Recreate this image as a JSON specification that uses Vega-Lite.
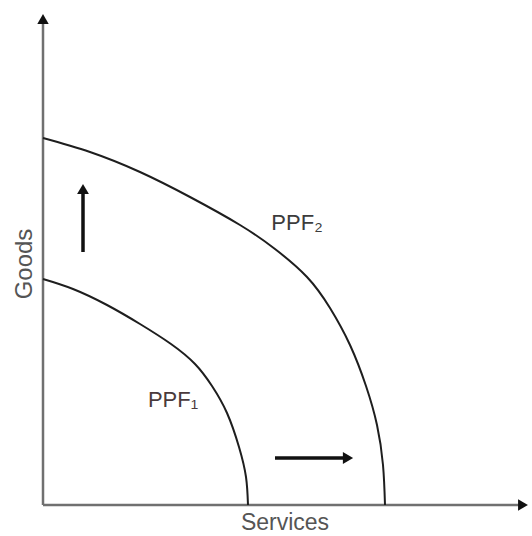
{
  "$schema": "https://vega.github.io/schema/vega-lite/v6.json",
  "width": 532,
  "height": 536,
  "padding": 0,
  "autosize": {"type": "none"},
  "background": "white",
  "config": {"view": {"stroke": null}},
  "datasets": {
    "curves": [
      {"curve": "PPF1", "order": 0, "services": 0, "goods": 226},
      {"curve": "PPF1", "order": 1, "services": 30, "goods": 216},
      {"curve": "PPF1", "order": 2, "services": 64, "goods": 200},
      {"curve": "PPF1", "order": 3, "services": 97, "goods": 181},
      {"curve": "PPF1", "order": 4, "services": 128, "goods": 161},
      {"curve": "PPF1", "order": 5, "services": 152, "goods": 141},
      {"curve": "PPF1", "order": 6, "services": 169, "goods": 119},
      {"curve": "PPF1", "order": 7, "services": 184, "goods": 92},
      {"curve": "PPF1", "order": 8, "services": 196, "goods": 58},
      {"curve": "PPF1", "order": 9, "services": 203, "goods": 28},
      {"curve": "PPF1", "order": 10, "services": 205, "goods": 0},
      {"curve": "PPF2", "order": 0, "services": 0, "goods": 367},
      {"curve": "PPF2", "order": 1, "services": 47, "goods": 353},
      {"curve": "PPF2", "order": 2, "services": 97, "goods": 333},
      {"curve": "PPF2", "order": 3, "services": 147, "goods": 308},
      {"curve": "PPF2", "order": 4, "services": 197, "goods": 280},
      {"curve": "PPF2", "order": 5, "services": 232, "goods": 256},
      {"curve": "PPF2", "order": 6, "services": 264, "goods": 228},
      {"curve": "PPF2", "order": 7, "services": 287, "goods": 197},
      {"curve": "PPF2", "order": 8, "services": 307, "goods": 160},
      {"curve": "PPF2", "order": 9, "services": 323, "goods": 119},
      {"curve": "PPF2", "order": 10, "services": 334, "goods": 80},
      {"curve": "PPF2", "order": 11, "services": 340, "goods": 40},
      {"curve": "PPF2", "order": 12, "services": 342, "goods": 0}
    ],
    "axes": [
      {"x": 0, "y": 0, "x2": 0, "y2": 484},
      {"x": 0, "y": 0, "x2": 476, "y2": 0}
    ],
    "axisHeads": [
      {"x": 0, "y": 486, "shape": "triangle-up"},
      {"x": 480, "y": 0, "shape": "triangle-right"}
    ],
    "shifts": [
      {"x": 40, "y": 253, "x2": 40, "y2": 313},
      {"x": 232, "y": 47, "x2": 303, "y2": 47}
    ],
    "shiftHeads": [
      {"x": 40, "y": 316, "shape": "triangle-up"},
      {"x": 305, "y": 47, "shape": "triangle-right"}
    ],
    "labels": [
      {"x": 254, "y": 282, "text": "PPF₂", "color": "#3c3c3c"},
      {"x": 130, "y": 105, "text": "PPF₁", "color": "#4a3a3c"}
    ]
  },
  "encoding": {},
  "layer": [
    {
      "data": {"name": "axes"},
      "mark": {"type": "rule", "color": "#707070", "strokeWidth": 2.5},
      "encoding": {
        "x": {"field": "x", "type": "quantitative", "scale": {"domain": [-43, 489], "nice": false, "zero": false}, "axis": null},
        "y": {"field": "y", "type": "quantitative", "scale": {"domain": [-31, 505], "nice": false, "zero": false}, "axis": null},
        "x2": {"field": "x2"},
        "y2": {"field": "y2"}
      }
    },
    {
      "data": {"name": "axisHeads"},
      "mark": {"type": "point", "filled": true, "color": "#111", "size": 130, "opacity": 1},
      "encoding": {
        "x": {"field": "x", "type": "quantitative"},
        "y": {"field": "y", "type": "quantitative"},
        "shape": {"field": "shape", "type": "nominal", "scale": null}
      }
    },
    {
      "data": {"name": "curves"},
      "mark": {"type": "line", "color": "#1e1e1e", "strokeWidth": 2, "interpolate": "natural"},
      "encoding": {
        "x": {"field": "services", "type": "quantitative"},
        "y": {"field": "goods", "type": "quantitative"},
        "detail": {"field": "curve"},
        "order": {"field": "order", "type": "quantitative"}
      }
    },
    {
      "data": {"name": "shifts"},
      "mark": {"type": "rule", "color": "#111", "strokeWidth": 3.5},
      "encoding": {
        "x": {"field": "x", "type": "quantitative"},
        "y": {"field": "y", "type": "quantitative"},
        "x2": {"field": "x2"},
        "y2": {"field": "y2"}
      }
    },
    {
      "data": {"name": "shiftHeads"},
      "mark": {"type": "point", "filled": true, "color": "#111", "size": 140, "opacity": 1},
      "encoding": {
        "x": {"field": "x", "type": "quantitative"},
        "y": {"field": "y", "type": "quantitative"},
        "shape": {"field": "shape", "type": "nominal", "scale": null}
      }
    },
    {
      "data": {"name": "labels"},
      "mark": {"type": "text", "font": "Liberation Sans", "fontSize": 22, "align": "center", "baseline": "middle"},
      "encoding": {
        "x": {"field": "x", "type": "quantitative"},
        "y": {"field": "y", "type": "quantitative"},
        "text": {"field": "text"},
        "color": {"field": "color", "type": "nominal", "scale": null}
      }
    },
    {
      "data": {"values": [{"x": 242, "y": -18, "text": "Services"}]},
      "mark": {"type": "text", "font": "Liberation Sans", "fontSize": 23, "color": "#555", "align": "center", "baseline": "middle"},
      "encoding": {
        "x": {"field": "x", "type": "quantitative"},
        "y": {"field": "y", "type": "quantitative"},
        "text": {"field": "text"}
      }
    },
    {
      "data": {"values": [{"x": -18, "y": 241, "text": "Goods"}]},
      "mark": {"type": "text", "font": "Liberation Sans", "fontSize": 24, "color": "#555", "align": "center", "baseline": "middle", "angle": 270},
      "encoding": {
        "x": {"field": "x", "type": "quantitative"},
        "y": {"field": "y", "type": "quantitative"},
        "text": {"field": "text"}
      }
    }
  ]
}
